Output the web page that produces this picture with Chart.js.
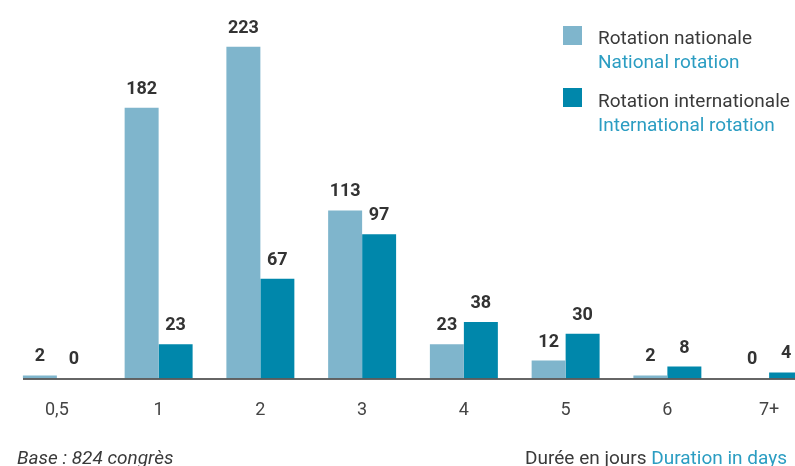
<!DOCTYPE html>
<html>
<head>
	<meta charset="utf-8">
	<title>Rotation des congrès</title>
	<script src="https://cdn.jsdelivr.net/npm/chart.js"></script>
	<style>
		body { margin: 0; width: 795px; height: 466px; overflow: hidden; background: #fff; position: relative; font-family: Roboto, sans-serif; }
		#wrap { position: absolute; left: 0; top: 0; width: 830px; height: 466px; }
		.lg-box { position: absolute; width: 19px; height: 19px; }
		.txt { position: absolute; font-size: 19px; color: #3a3a3a; white-space: nowrap; line-height: 24px; }
		.en { color: #2b9dc2; }
	</style>
</head>
<body>
	<div id="wrap"><canvas id="grafico"></canvas></div>

	<div class="lg-box" style="left:563px; top:26px; background:#7fb5cc;"></div>
	<div class="txt" style="left:598px; top:26px;">Rotation nationale<br><span class="en">National rotation</span></div>
	<div class="lg-box" style="left:563px; top:88px; background:#0087ab;"></div>
	<div class="txt" style="left:598px; top:89px;">Rotation internationale<br><span class="en">International rotation</span></div>

	<div class="txt" style="left:17px; top:446px; font-style:italic;">Base : 824 congrès</div>
	<div class="txt" style="right:8px; top:446px;">Durée en jours <span class="en">Duration in days</span></div>

	<script>
		var categorias = ['0,5', '1', '2', '3', '4', '5', '6', '7+'];
		var nacional = [2, 182, 223, 113, 23, 12, 2, 0];
		var internacional = [0, 23, 67, 97, 38, 30, 8, 4];

		// etiquetas de valor encima de cada barra + linea del eje
		var etiquetas = {
			id: 'etiquetas',
			afterDatasetsDraw: function(chart) {
				var ctx = chart.ctx;
				ctx.save();
				ctx.strokeStyle = '#333';
				ctx.lineWidth = 1.5;
				ctx.beginPath();
				ctx.moveTo(23, chart.chartArea.bottom + 0.5);
				ctx.lineTo(830, chart.chartArea.bottom + 0.5);
				ctx.stroke();

				ctx.font = 'bold 18px Roboto';
				ctx.fillStyle = '#333';
				ctx.textAlign = 'center';
				ctx.textBaseline = 'alphabetic';
				chart.data.datasets.forEach(function(ds, i) {
					chart.getDatasetMeta(i).data.forEach(function(bar, j) {
						ctx.fillText(ds.data[j], bar.x, bar.y - 14);
					});
				});
				ctx.restore();
			}
		};

		var ctx = document.getElementById('grafico').getContext('2d');
		var chart = new Chart(ctx, {
			type: 'bar',
			data: {
				labels: categorias,
				datasets: [{
					label: 'Rotation nationale',
					data: nacional,
					backgroundColor: '#7fb5cc'
				}, {
					label: 'Rotation internationale',
					data: internacional,
					backgroundColor: '#0087ab'
				}]
			},
			options: {
				responsive: true,
				maintainAspectRatio: false,
				animation: false,
				layout: { padding: { left: 6, right: 10, top: 0, bottom: 32 } },
				plugins: { legend: { display: false }, tooltip: { enabled: false } },
				datasets: { bar: { categoryPercentage: 0.668, barPercentage: 1.0 } },
				scales: {
					x: {
						grid: { display: false },
						border: { display: false },
						ticks: { color: '#444', font: { size: 18, family: 'Roboto' }, padding: 13 }
					},
					y: { display: false, min: 0, max: 254.5 }
				}
			},
			plugins: [etiquetas]
		});
	</script>
</body>
</html>
